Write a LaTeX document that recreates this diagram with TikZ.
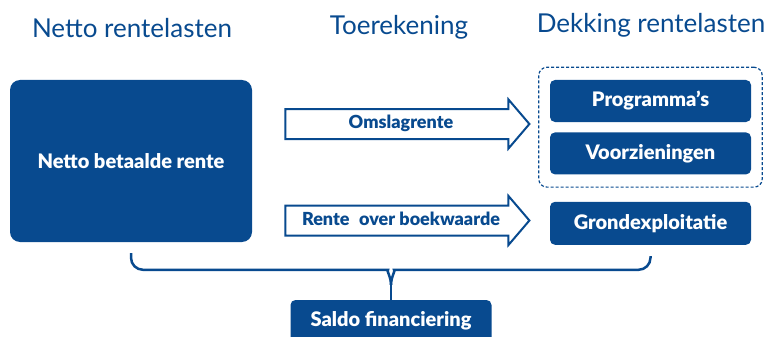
\documentclass[tikz,border=0pt]{standalone}
\usepackage{fontspec}
\setmainfont{Lato}[BoldFont={Lato Black}]
\usetikzlibrary{positioning,fit,shapes.arrows}
\definecolor{rblauw}{RGB}{8,74,143}

\begin{document}
\begin{tikzpicture}[x=1pt,y=-1pt,
  kop/.style={anchor=base,text=rblauw,font=\fontsize{26}{30}\selectfont},
  blok/.style={fill=rblauw,text=white,rounded corners=5pt,minimum width=201pt,minimum height=42pt,inner sep=0pt,font=\fontsize{20}{24}\selectfont\bfseries},
  pijl/.style={single arrow,draw=rblauw,line width=2pt,fill=white,text=rblauw,minimum height=244pt,single arrow head extend=9.5pt,single arrow tip angle=99,single arrow head indent=0pt,text height=13pt,text depth=4pt,inner ysep=5.5pt,font=\fontsize{18}{20}\selectfont\bfseries},
  accolade/.style={draw=rblauw,line width=2.5pt}]
  \useasboundingbox (0,0) rectangle (766,337);

  \node[kop] (kop1) at (132,38) {Netto rentelasten};
  \node[kop] (kop2) at (399,35) {Toerekening};
  \node[kop] (kop3) at (651,33) {Dekking rentelasten};

  \node[blok,rounded corners=10pt,minimum width=242pt,minimum height=162pt] (netto) at (131,161) {Netto betaalde rente};
  \node[blok] (prog) at (650.5,101) {Programma’s};
  \node[blok] (voorz) [below=10pt of prog] {Voorzieningen};
  \node[blok,minimum height=43pt] (grond) [below=27pt of voorz] {Grondexploitatie};
  \node[draw=rblauw,line width=1.2pt,dash pattern=on 3pt off 2pt,rounded corners=8pt,inner xsep=11pt,inner ysep=12.5pt,fit=(prog)(voorz)] (dekking) {};
  \node[blok] (saldo) at (391,321) {Saldo financiering};

  \node[pijl] (omslag) at (401,124) {Omslagrente};
  \node[pijl] (boekw) at (401,220.5) {Rente\hspace{0.3em} over boekwaarde};

  % accolade naar saldo
  \coordinate (knik) at ([yshift=15pt]saldo.north);
  \draw[accolade] (saldo.north) -- (knik);
  \draw[accolade,rounded corners=12pt] ([yshift=-11pt]netto.south) |- ([xshift=-15pt,yshift=15pt]knik) .. controls +(10,0) and +(0,-8) .. (knik);
  \draw[accolade,rounded corners=12pt] ([yshift=-11pt]grond.south) |- ([xshift=15pt,yshift=15pt]knik) .. controls +(-10,0) and +(0,-8) .. (knik);
\end{tikzpicture}
\end{document}
